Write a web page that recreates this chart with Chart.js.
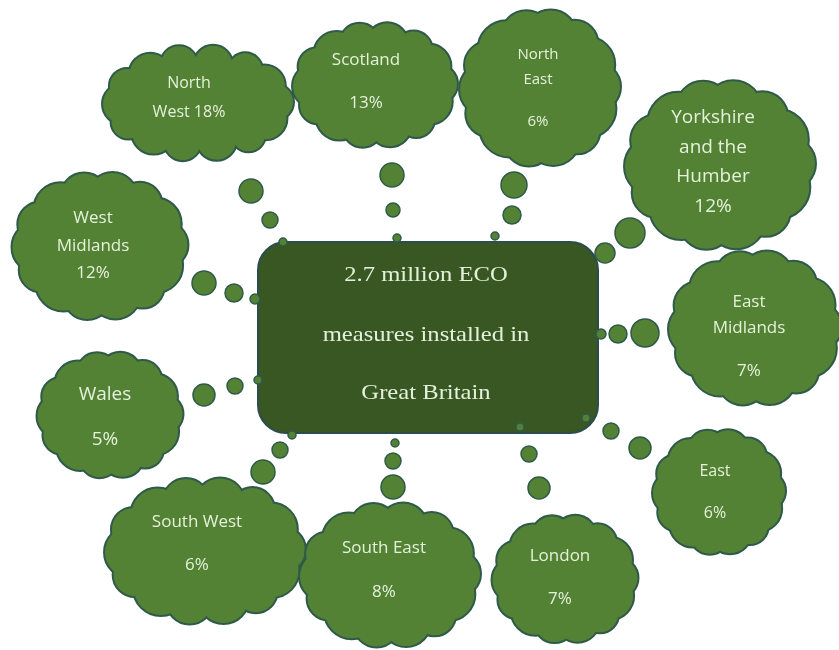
<!DOCTYPE html>
<html>
<head>
<meta charset="utf-8">
<script src="https://cdn.jsdelivr.net/npm/chart.js@4.4.1/dist/chart.umd.min.js"></script>
<style>
  html, body { margin: 0; padding: 0; background: #ffffff; }
  #eco { display: block; }
</style>
</head>
<body>
<canvas id="eco" width="839" height="650"></canvas>
<script>
// Data: share of ECO measures by region
const regions = ['North West', 'Scotland', 'North East', 'Yorkshire and the Humber', 'West Midlands',
    'East Midlands', 'Wales', 'East', 'London', 'South West', 'South East'];
const shares = [18, 13, 6, 12, 12, 7, 5, 6, 7, 6, 8];
const centreTitle = ['2.7 million ECO', 'measures installed in', 'Great Britain'];

// How each label is broken into lines ({v} = the share)
const labelLines = [
    ['North', 'West {v}%'],
    ['Scotland', '{v}%'],
    ['North', 'East', '{v}%'],
    ['Yorkshire', 'and the', 'Humber', '{v}%'],
    ['West', 'Midlands', '{v}%'],
    ['East', 'Midlands', '{v}%'],
    ['Wales', '{v}%'],
    ['East', '{v}%'],
    ['London', '{v}%'],
    ['South West', '{v}%'],
    ['South East', '{v}%']
];

// Layout (canvas units, the axes run 0..839 and 0..650)
const cloudX = [198, 375, 540, 720, 100, 755, 110, 719, 565, 205, 390];
const cloudY = [103, 85, 88, 165, 246, 328, 415, 492, 579, 551, 575];
const cloudW = [190, 164, 160, 190, 175, 172, 145, 132, 145, 200, 180];
const cloudH = [116, 125, 157, 170, 148, 155, 126, 125, 128, 147, 145];
const textX = [189, 366, 538, 713, 93, 749, 105, 715, 560, 197, 384];
const textY = [[83, 112], [60, 103], [55, 80, 122], [118, 148, 177, 207], [218, 246, 273],
    [302, 328, 371], [395, 440], [471, 513], [556, 599], [522, 565], [548, 592]];
const fontPx = [16, 17, 15, 19, 17, 17, 19, 16, 17, 17, 17];

// thought-bubble dots leading from the box to each cloud
const dotX = [251, 270, 283, 392, 393, 397, 514, 512, 495, 630, 605, 645, 618, 601, 640, 611, 586,
    539, 529, 520, 393, 393, 395, 263, 280, 292, 204, 235, 258, 204, 234, 255];
const dotY = [191, 220, 242, 175, 210, 238, 185, 215, 236, 233, 253, 333, 334, 334, 448, 431, 418,
    488, 454, 427, 487, 461, 443, 472, 450, 435, 395, 386, 380, 283, 293, 299];
const dotR = [12, 8, 4, 12, 7, 4, 13, 9, 4, 15, 10, 14, 9, 5, 11, 8, 4,
    11, 8, 4, 12, 8, 4, 12, 8, 4, 11, 8, 4, 12, 9, 5];

const boxLeft = 258, boxRight = 598, boxTop = 242, boxBottom = 433;
const titleY = [275, 335, 393];

const cloudFill = '#548235';
const cloudLine = '#2f5a4a';
const textColour = '#e4f1da';
const bumpScale = [1, 0.88, 1.06, 0.92, 1.1, 0.86, 1.02, 0.94, 1.12, 0.88, 1.04, 0.9, 1.08, 0.95];

function cloudCircles(cx, cy, a, b) {
    const base = 0.33 * Math.min(a, b);
    const circles = [];
    const n = bumpScale.length;
    for (let i = 0; i < n; i++) {
        const t = -Math.PI / 2 + 0.2 + (2 * Math.PI * i) / n;
        const r = base * bumpScale[i];
        circles.push({ x: cx + (a - r) * Math.cos(t), y: cy + (b - r) * Math.sin(t), r: r });
    }
    return { circles: circles, ia: a - base, ib: b - base };
}

function drawCloud(ctx, cx, cy, w, h) {
    const shape = cloudCircles(cx, cy, w / 2, h / 2);
    // outline first, fill on top so only the outer edge is left
    ctx.lineWidth = 4;
    ctx.strokeStyle = cloudLine;
    shape.circles.forEach(c => {
        ctx.beginPath();
        ctx.arc(c.x, c.y, c.r, 0, Math.PI * 2);
        ctx.stroke();
    });
    ctx.fillStyle = cloudFill;
    shape.circles.forEach(c => {
        ctx.beginPath();
        ctx.arc(c.x, c.y, c.r, 0, Math.PI * 2);
        ctx.fill();
    });
    ctx.beginPath();
    ctx.ellipse(cx, cy, shape.ia + 3, shape.ib + 3, 0, 0, Math.PI * 2);
    ctx.fill();
}

const cloudPlugin = {
    id: 'clouds',
    beforeDatasetsDraw(chart) {
        const ctx = chart.ctx;
        const xs = chart.scales.x, ys = chart.scales.y;
        const meta = chart.getDatasetMeta(0);
        ctx.save();
        meta.data.forEach((el, i) => {
            const w = xs.getPixelForValue(cloudW[i]) - xs.getPixelForValue(0);
            const h = ys.getPixelForValue(cloudH[i]) - ys.getPixelForValue(0);
            drawCloud(ctx, el.x, el.y, w, h);
        });

        // centre box
        const l = xs.getPixelForValue(boxLeft), r = xs.getPixelForValue(boxRight);
        const t = ys.getPixelForValue(boxTop), b = ys.getPixelForValue(boxBottom);
        ctx.beginPath();
        ctx.roundRect(l, t, r - l, b - t, 28);
        ctx.fillStyle = '#385723';
        ctx.fill();
        ctx.lineWidth = 2;
        ctx.strokeStyle = '#2c4d4d';
        ctx.stroke();

        ctx.fillStyle = textColour;
        ctx.font = '22px "Liberation Serif", "Times New Roman", serif';
        ctx.textAlign = 'center';
        ctx.textBaseline = 'middle';
        const mid = (l + r) / 2 - 2;
        centreTitle.forEach((line, k) => {
            ctx.save();
            ctx.translate(mid, ys.getPixelForValue(titleY[k]));
            ctx.scale(1.12, 1);
            ctx.fillText(line, 0, 0);
            ctx.restore();
        });
        ctx.restore();
    },
    afterDatasetsDraw(chart) {
        const ctx = chart.ctx;
        const xs = chart.scales.x, ys = chart.scales.y;
        ctx.save();
        ctx.fillStyle = textColour;
        ctx.textAlign = 'center';
        ctx.textBaseline = 'middle';
        labelLines.forEach((lines, i) => {
            ctx.font = fontPx[i] + 'px "Open Sans", sans-serif';
            lines.forEach((line, k) => {
                const txt = line.replace('{v}', shares[i]);
                ctx.fillText(txt, xs.getPixelForValue(textX[i]), ys.getPixelForValue(textY[i][k]));
            });
        });
        ctx.restore();
    }
};

const ctx = document.getElementById('eco').getContext('2d');

const chart = new Chart(ctx, {
    type: 'bubble',
    data: {
        labels: regions,
        datasets: [
            {
                type: 'scatter',
                label: 'Regions',
                data: regions.map((name, i) => ({ x: cloudX[i], y: cloudY[i], v: shares[i] })),
                pointRadius: 0,
                pointHoverRadius: 0
            },
            {
                label: 'Dots',
                data: dotX.map((x, i) => ({ x: x, y: dotY[i], r: dotR[i] })),
                backgroundColor: cloudFill,
                borderColor: cloudLine,
                borderWidth: 1.5,
                hoverRadius: 0
            }
        ]
    },
    options: {
        responsive: false,
        animation: false,
        layout: { autoPadding: false, padding: 0 },
        plugins: {
            legend: { display: false },
            tooltip: { enabled: false }
        },
        scales: {
            x: { type: 'linear', min: 0, max: 839, display: false },
            y: { type: 'linear', min: 0, max: 650, reverse: true, display: false }
        }
    },
    plugins: [cloudPlugin]
});
</script>
</body>
</html>
